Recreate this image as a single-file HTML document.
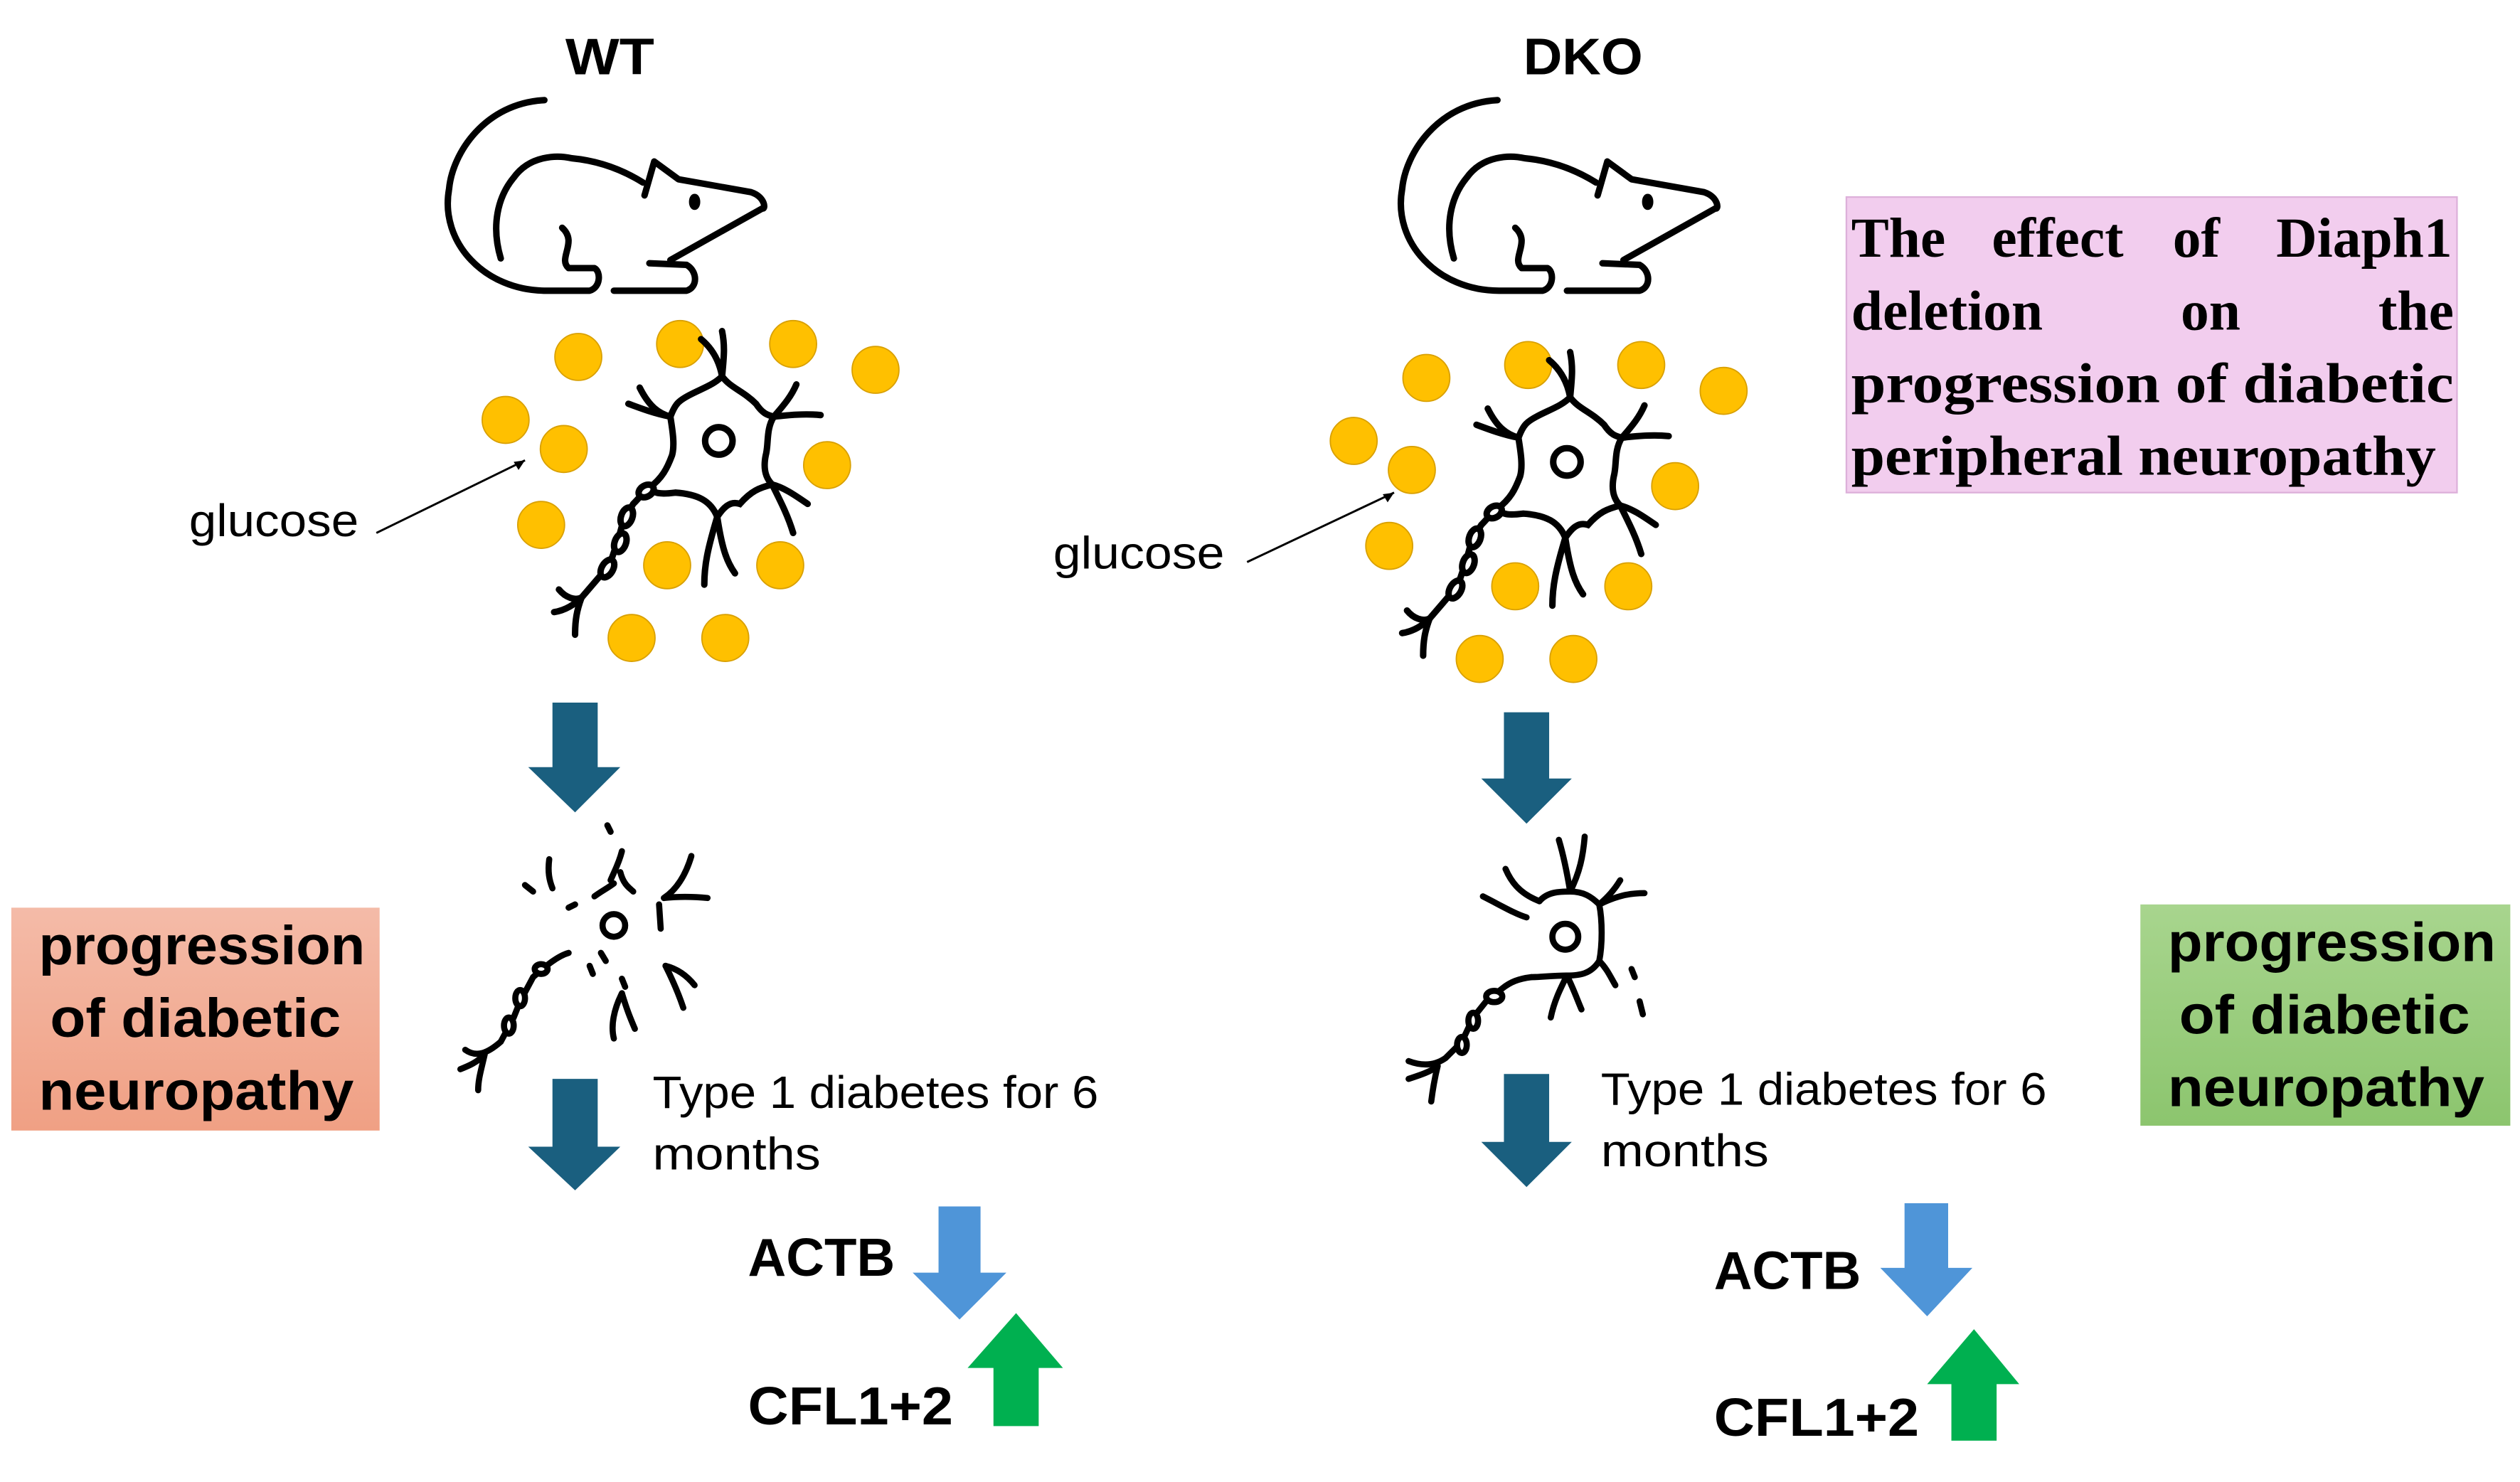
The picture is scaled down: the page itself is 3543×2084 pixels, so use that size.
<!DOCTYPE html>
<html><head><meta charset="utf-8"><style>html,body{margin:0;padding:0;background:#fff}svg{display:block}</style></head>
<body>
<svg width="3543" height="2084" viewBox="0 0 1560 917.6" preserveAspectRatio="none" xmlns="http://www.w3.org/2000/svg">
<defs>
<linearGradient id="gs" x1="0" y1="0" x2="0" y2="1"><stop offset="0" stop-color="#F4BBA8"/><stop offset="1" stop-color="#F0A084"/></linearGradient>
<linearGradient id="gg" x1="0" y1="0" x2="0" y2="1"><stop offset="0" stop-color="#A8D58E"/><stop offset="1" stop-color="#8CC56E"/></linearGradient>
<g id="mouse" fill="none" stroke="#000" stroke-width="4" stroke-linecap="round" stroke-linejoin="round">
<path d="M337,62 C300,64 280,95 278,117 C272,150 300,180 338,180 L365,180 C372,178 372,168 368,166 L352,166 C345,160 358,150 348,141"/>
<path d="M310,160 C304,140 308,122 318,110 C328,96 345,96 354,98 C375,100 390,108 398,113"/>
<path d="M399,121 L405,100 L420,111 L465,119 C474,122 474,130 472,129 L415,161"/>
<path d="M402,163 L425,164 C432,168 432,178 425,180 L380,180"/>
<ellipse cx="430" cy="125" rx="1.5" ry="3" fill="#000"/>
</g>
<g id="dots" fill="#FFC000" stroke="#D9A000" stroke-width="0.8">
<circle cx="358" cy="221" r="14.5"/><circle cx="421" cy="213" r="14.5"/><circle cx="491" cy="213" r="14.5"/><circle cx="542" cy="229" r="14.5"/>
<circle cx="313" cy="260" r="14.5"/><circle cx="349" cy="278" r="14.5"/><circle cx="512" cy="288" r="14.5"/><circle cx="335" cy="325" r="14.5"/>
<circle cx="413" cy="350" r="14.5"/><circle cx="483" cy="350" r="14.5"/><circle cx="391" cy="395" r="14.5"/><circle cx="449" cy="395" r="14.5"/>
</g>
<g id="neuron" fill="none" stroke="#000" stroke-width="4" stroke-linecap="round">
<path d="M415,258 C418,250 420,248 428,244 C436,240 442,238 447,233 C452,240 460,242 468,250 C472,256 475,257 479,258 C474,266 476,275 474,282 C472,292 475,297 478,300 C470,302 465,304 458,312 C452,310 448,314 444,320 C440,310 432,306 418,305 C410,306 405,306 402,302 C410,296 413,290 416,282 C418,275 416,265 415,258 Z"/>
<circle cx="445" cy="273" r="8.5"/>
<path d="M447,233 C448,222 449,215 447,205"/><path d="M447,233 C445,222 440,215 434,210"/>
<path d="M415,258 C408,256 402,252 396,240"/><path d="M415,258 C405,256 397,253 389,250"/>
<path d="M479,258 C488,257 498,256 508,257"/><path d="M479,258 C486,250 490,245 493,238"/>
<path d="M478,300 C486,302 494,308 500,312"/><path d="M478,300 C484,312 488,320 491,330"/>
<path d="M444,320 C438,340 436,350 436,362"/><path d="M444,320 C447,340 450,348 455,355"/>
<path d="M402,302 C398,305 396,308 392,312 L386,322 L383,333 L379,345 L372,356 L360,370 C356,372 350,370 346,365"/>
<path d="M360,370 C356,374 350,378 343,379"/><path d="M360,370 C357,378 356,384 356,393"/>
<ellipse cx="400" cy="304" rx="5" ry="3.5" transform="rotate(-30 400 304)" fill="#fff"/>
<ellipse cx="388" cy="320" rx="3.5" ry="6" transform="rotate(20 388 320)" fill="#fff"/>
<ellipse cx="384" cy="336" rx="3.5" ry="6" transform="rotate(20 384 336)" fill="#fff"/>
<ellipse cx="376" cy="352" rx="3.5" ry="6" transform="rotate(30 376 352)" fill="#fff"/>
</g>
<g id="broken" fill="none" stroke="#000" stroke-width="3.8" stroke-linecap="round">
<circle cx="380" cy="573" r="7"/>
<path d="M385,527 C383,535 380,540 378,545"/><path d="M384,540 C386,548 390,550 392,552"/>
<path d="M368,555 C372,552 376,550 380,547"/><path d="M376,511 L378,515"/>
<path d="M340,532 C339,540 340,545 342,550"/><path d="M325,548 L330,552"/><path d="M352,562 L356,560"/>
<path d="M411,556 C420,555 428,555 438,556"/><path d="M411,556 C420,550 425,540 428,530"/><path d="M408,560 L409,575"/>
<path d="M412,598 C420,600 426,605 430,610"/><path d="M412,598 C416,606 420,615 423,624"/>
<path d="M385,615 C380,625 378,635 380,643"/><path d="M385,615 C388,625 390,630 393,637"/>
<path d="M372,590 L375,595"/><path d="M365,598 L367,603"/><path d="M385,606 L387,611"/>
<path d="M352,590 C345,592 338,598 330,605 L322,620 L318,630 L310,645 C302,652 295,655 288,650"/>
<path d="M300,653 C295,658 290,660 285,662"/><path d="M300,653 C298,662 296,668 296,675"/>
<ellipse cx="335" cy="600" rx="4" ry="3" fill="#fff"/><ellipse cx="322" cy="618" rx="3" ry="5" fill="#fff"/><ellipse cx="315" cy="635" rx="3" ry="5" fill="#fff"/>
</g>
<g id="brokenB" fill="none" stroke="#000" stroke-width="3.8" stroke-linecap="round">
<circle cx="969" cy="580" r="8"/>
<path d="M953,558 C958,552 966,552 972,552 C980,552 985,555 990,560 C992,570 992,585 990,595 C985,603 978,604 970,604 C960,604 955,605 948,605"/>
<path d="M972,552 C970,540 968,530 965,520"/><path d="M972,552 C978,540 980,530 981,518"/>
<path d="M953,558 C940,553 935,545 932,538"/><path d="M945,568 C938,566 928,560 918,555"/>
<path d="M990,560 C1000,555 1008,553 1018,553"/><path d="M990,560 C996,555 1000,550 1003,545"/>
<path d="M990,595 C995,600 997,605 1000,610"/><path d="M1010,600 L1012,605"/><path d="M1015,620 L1017,628"/>
<path d="M970,604 C966,612 962,620 960,630"/><path d="M970,604 C974,612 976,618 979,625"/>
<path d="M948,605 C940,606 935,608 930,612 L920,620 L912,630 L905,645 L895,655 C888,660 880,660 872,657"/>
<path d="M890,660 C885,664 878,666 872,668"/><path d="M890,660 C888,668 887,674 886,682"/>
<ellipse cx="925" cy="617" rx="5" ry="3.5" fill="#fff"/><ellipse cx="912" cy="632" rx="3" ry="5" fill="#fff"/><ellipse cx="905" cy="647" rx="3" ry="5" fill="#fff"/>
</g>
</defs>

<g font-family="Liberation Sans, sans-serif" font-weight="bold" fill="#000">
<text x="350" y="46" font-size="32" textLength="55" lengthAdjust="spacingAndGlyphs">WT</text>
<text x="943" y="46" font-size="32" textLength="74" lengthAdjust="spacingAndGlyphs">DKO</text>
</g>

<use href="#mouse"/>
<use href="#mouse" transform="translate(590,0)"/>

<use href="#dots"/>
<use href="#dots" transform="translate(525,13)"/>
<use href="#neuron"/>
<use href="#neuron" transform="translate(525,13)"/>

<g font-family="Liberation Sans, sans-serif" font-size="28" fill="#000">
<text x="117" y="332" textLength="105" lengthAdjust="spacingAndGlyphs">glucose</text>
<text x="652" y="352" textLength="106" lengthAdjust="spacingAndGlyphs">glucose</text>
</g>
<g stroke="#000" stroke-width="1.3">
<line x1="233" y1="330" x2="325" y2="285"/>
<line x1="772" y1="348" x2="863" y2="305"/>
</g>
<path d="M325,285 l-7,1 l3,5 z" fill="#000"/>
<path d="M863,305 l-7,1 l3,5 z" fill="#000"/>

<g fill="#1A5F7F">
<path d="M342,435 H370 V475 H384 L356,503 L327,475 H342 Z"/>
<path d="M342,668 H370 V710 H384 L356,737 L327,710 H342 Z"/>
<path d="M931,441 H959 V482 H973 L945,510 L917,482 H931 Z"/>
<path d="M931,665 H959 V707 H973 L945,735 L917,707 H931 Z"/>
</g>

<use href="#broken"/>
<use href="#brokenB"/>

<rect x="7" y="562" width="228" height="138" fill="url(#gs)"/>
<rect x="1325" y="560" width="229" height="137" fill="url(#gg)"/>
<g font-family="Liberation Sans, sans-serif" font-weight="bold" font-size="34" fill="#000">
<text x="24" y="597" textLength="202" lengthAdjust="spacingAndGlyphs">progression</text>
<text x="31" y="642" textLength="180" lengthAdjust="spacingAndGlyphs">of diabetic</text>
<text x="24" y="687" textLength="195" lengthAdjust="spacingAndGlyphs">neuropathy</text>
<text x="1342" y="595" textLength="203" lengthAdjust="spacingAndGlyphs">progression</text>
<text x="1349" y="640" textLength="180" lengthAdjust="spacingAndGlyphs">of diabetic</text>
<text x="1342" y="685" textLength="196" lengthAdjust="spacingAndGlyphs">neuropathy</text>
</g>

<rect x="1143" y="122" width="378" height="183" fill="#F2CDEE" stroke="#DDB0DA" stroke-width="1"/>
<g font-family="Liberation Serif, serif" font-weight="bold" font-size="35" fill="#000">
<text x="1146" y="159">The</text>
<text x="1233" y="159">effect</text>
<text x="1345" y="159">of</text>
<text x="1518" y="159" text-anchor="end">Diaph1</text>
<text x="1146" y="204">deletion</text>
<text x="1350" y="204">on</text>
<text x="1519" y="204" text-anchor="end">the</text>
<text x="1146" y="249" textLength="373" lengthAdjust="spacingAndGlyphs">progression of diabetic</text>
<text x="1146" y="294" textLength="362" lengthAdjust="spacingAndGlyphs">peripheral neuropathy</text>
</g>

<g font-family="Liberation Sans, sans-serif" font-size="28" fill="#000">
<text x="404" y="686" textLength="276" lengthAdjust="spacingAndGlyphs">Type 1 diabetes for 6</text>
<text x="404" y="724" textLength="104" lengthAdjust="spacingAndGlyphs">months</text>
<text x="991" y="684" textLength="276" lengthAdjust="spacingAndGlyphs">Type 1 diabetes for 6</text>
<text x="991" y="722" textLength="104" lengthAdjust="spacingAndGlyphs">months</text>
</g>

<g font-family="Liberation Sans, sans-serif" font-weight="bold" font-size="33" fill="#000">
<text x="463" y="790" textLength="91" lengthAdjust="spacingAndGlyphs">ACTB</text>
<text x="463" y="882" textLength="127" lengthAdjust="spacingAndGlyphs">CFL1+2</text>
<text x="1061" y="798" textLength="91" lengthAdjust="spacingAndGlyphs">ACTB</text>
<text x="1061" y="889" textLength="127" lengthAdjust="spacingAndGlyphs">CFL1+2</text>
</g>

<g fill="#4F95D8">
<path d="M581,747 H607 V788 H623 L594,817 L565,788 H581 Z"/>
<path d="M1179,745 H1206 V785 H1221 L1193,815 L1164,785 H1179 Z"/>
</g>
<g fill="#00B050">
<path d="M615,883 H643 V847 H658 L629,813 L599,847 H615 Z"/>
<path d="M1208,892 H1236 V857 H1250 L1222,823 L1193,857 H1208 Z"/>
</g>
</svg>
</body></html>
